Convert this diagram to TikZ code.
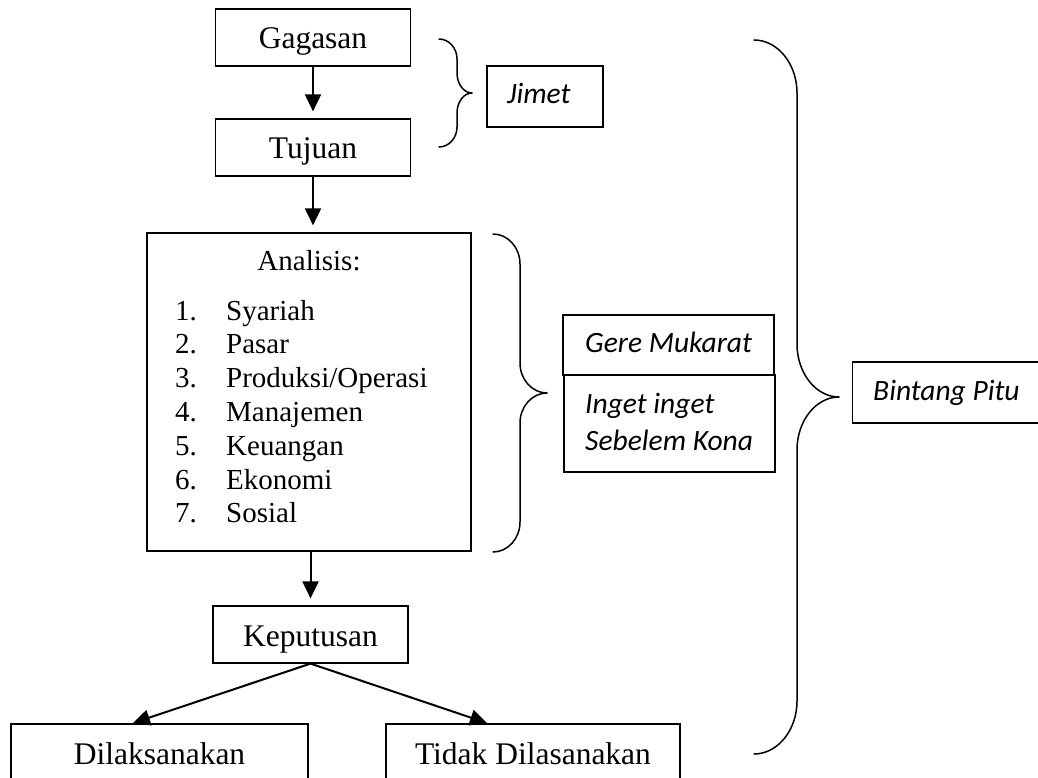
\documentclass[tikz,border=0pt]{standalone}
\usepackage{fontspec}
\setmainfont{Liberation Serif}
\newfontfamily\calib{Carlito}
\usetikzlibrary{arrows.meta}

% right-opening curly brace: left x, spine x, tip x, top y, middle y, bottom y, hook size
\newcommand\rbracepath[7]{%
  \draw[brace] (#1,#4) .. controls ({#1+0.55*(#2-#1)},#4) and (#2,{#4+0.45*#7}) .. (#2,{#4+#7})
    -- (#2,{#5-#7}) .. controls (#2,{#5-0.45*#7}) and ({#2+0.45*(#3-#2)},#5) .. (#3,#5)
    .. controls ({#2+0.45*(#3-#2)},#5) and (#2,{#5+0.45*#7}) .. (#2,{#5+#7})
    -- (#2,{#6-#7}) .. controls (#2,{#6-0.45*#7}) and ({#1+0.55*(#2-#1)},#6) .. (#1,#6);}

\begin{document}
\begin{tikzpicture}[x=1pt,y=-1pt,
  box/.style={draw, line width=1.2pt, minimum width=195pt, minimum height=57pt,
    inner sep=0pt, font=\fontsize{31.5}{36}\selectfont, text height=23pt, text depth=0pt},
  frame/.style={draw, line width=1.2pt, inner sep=0pt},
  lbl/.style={anchor=base west, inner sep=0pt, font=\calib\itshape\fontsize{29.5}{34}\selectfont},
  item/.style={anchor=base west, inner sep=0pt, font=\fontsize{29}{34}\selectfont},
  tip/.style={-{Triangle[length=17pt,width=16pt]}},
  arr/.style={line width=2pt, tip, shorten >=7pt},
  arrd/.style={line width=2pt, tip, shorten >=1pt},
  brace/.style={line width=1.5pt, line join=round, line cap=round}
]
\useasboundingbox (0,0) rectangle (1038,778);
\clip (0,0) rectangle (1038,778);

% main flow
\node[box] (gag) at (313,37.5) {Gagasan};
\node[box] (tuj) at (313,147.5) {Tujuan};
\node[frame, minimum width=324pt, minimum height=318pt] (ana) at (309,392) {};
\node[box] (kep) at (310.5,634.5) {Keputusan};
\node[box, minimum width=297pt] (dil) at (159.5,752.5) {Dilaksanakan};
\node[box, minimum width=294pt] (tdk) at (533,752.5) {Tidak Dilasanakan};

% contents of the analysis box
\node[anchor=base, inner sep=0pt, font=\fontsize{29}{34}\selectfont] (anat) at (309,270) {Analisis:};
\foreach \n/\t [count=\i from 0] in {1/Syariah,2/Pasar,3/{Produksi/Operasi},4/Manajemen,5/Keuangan,6/Ekonomi,7/Sosial}{
  \node[item] (num\n) at (175,{320+33.8*\i}) {\n.};
  \node[item] (itm\n) at (226,{320+33.8*\i}) {\t};
}

% arrows
\draw[arr] (gag.south) -- (tuj.north);
\draw[arr] (tuj.south) -- (tuj.south |- ana.north);
\draw[arr] (kep.north |- ana.south) -- (kep.north);
\draw[arrd] (kep.south) -- ([xshift=-27.5pt]dil.north);
\draw[arrd] (kep.south) -- ([xshift=-45pt]tdk.north);

% side labels
\node[frame, minimum width=116pt, minimum height=61pt] (jim) at (545,96.5) {};
\node[lbl] (jimt) at (507,104) {Jimet};
\node[frame, minimum width=211pt, minimum height=60pt] (gere) at (668.5,345) {};
\node[lbl] (geret) at (585,352) {Gere Mukarat};
\node[frame, minimum width=211pt, minimum height=97pt] (ing) at (669.5,423.5) {};
\node[lbl] (ingt1) at (585,413) {Inget inget};
\node[lbl] (ingt2) at (585,450) {Sebelem Kona};
\node[frame, minimum width=200pt, minimum height=61pt, anchor=west] (bin) at (852,392.5) {};
\node[lbl] (bint) at (873,400) {Bintang Pitu};

% braces
\rbracepath{439}{457}{472}{39}{93}{147}{20}
\rbracepath{493}{520}{547}{234}{393}{552}{30}
\rbracepath{754}{797}{839}{40}{397}{754}{53}
\end{tikzpicture}
\end{document}
